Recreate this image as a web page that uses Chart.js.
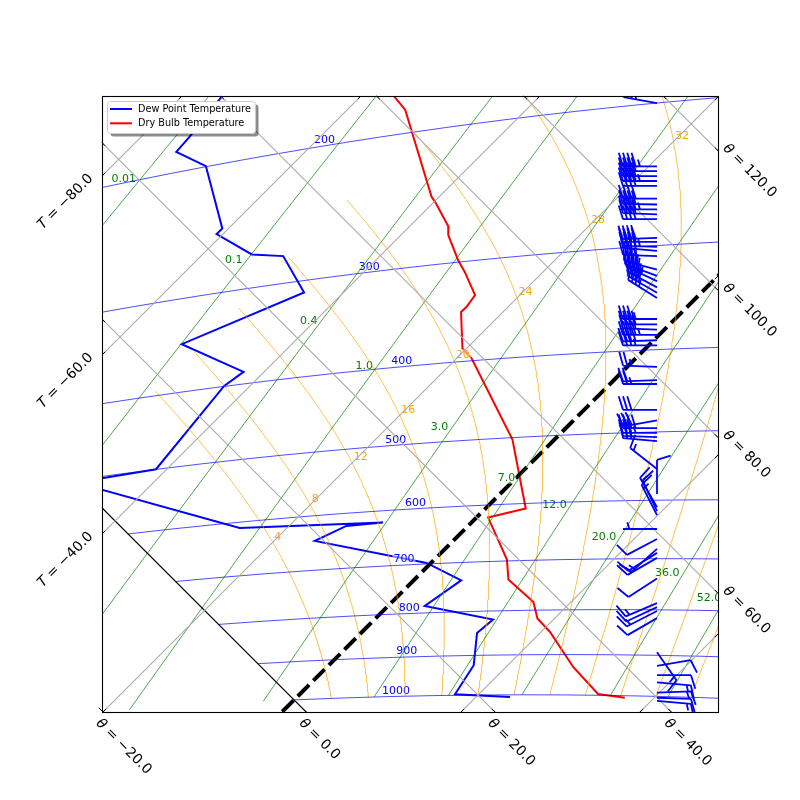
<!DOCTYPE html>
<html><head><meta charset="utf-8">
<script src="https://cdn.jsdelivr.net/npm/chart.js@4.4.0/dist/chart.umd.min.js"></script>
<style>html,body{margin:0;padding:0;background:#fff;}canvas{display:block;}</style>
</head><body>
<canvas id="c" width="800" height="800"></canvas>
<script>
// ---------------- DATA ----------------
// Dry bulb temperature profile (hPa, degC)
const tempPressure = [174, 186.1, 245.1, 249.1, 269.6, 276.3, 298.3, 309.3, 331.8, 342.5, 346.9, 385.5, 397.5, 502.6, 608.4, 621.0, 697.4, 736.1, 782.7, 818.1, 847.9, 929.6, 996.7, 1005.2];
const tempValues   = [-57.4, -53.5, -40.85, -39.9, -35.6, -34.7, -30.8, -28.75, -25.0, -24.65, -24.7, -20.45, -18.3, -4.7, 4.5, 1.3, 8.1, 10.5, 15.8, 18.1, 21.0, 27.5, 33.3, 36.7];
// Dew point profile (hPa, degC)
const dewPressure = [156.5, 179.6, 187.0, 199.6, 245.8, 249.5, 270.6, 276.0, 311.1, 345.5, 385.8, 399.4, 499.8, 504.0, 610.1, 620.0, 621.8, 644.5, 698.1, 734.7, 785.0, 818.6, 847.8, 924.0, 997.4, 1005.8];
const dewValues   = [-75.7, -74.6, -74.4, -69.5, -60.7, -60.7, -54.5, -50.8, -44.4, -52.3, -42.3, -42.9, -41.2, -48.6, -25.3, -9.9, -13.6, -15.45, -0.5, 5.3, 4.1, 13.25, 12.96, 16.2, 17.35, 23.8];
// Wind barbs (hPa, knots, direction from in degrees)
const barbPressure  = [200, 239.9, 243.2, 246.6, 250.1, 253.6, 262.9, 267.3, 271.0, 274.8, 278.6, 293.6, 296.9, 301.0, 304.5, 308.9, 320.8, 326.4, 331.2, 337.0, 342.0, 347.0, 367.8, 373.2, 378.6, 384.2, 389.9, 395.5, 419.2, 434.7, 439.3, 471.2, 484.8, 495.0, 501.4, 507.0, 512.6, 552.2, 590.1, 611.3, 617.7, 624.2, 647.5, 664.7, 682.3, 689.5, 698.6, 737.4, 786.3, 794.4, 802.6, 817.5, 893.0, 924.9, 947.1, 964.7, 990.4, 1003.6, 1011.6];
const barbSpeed     = [40, 45, 40, 40, 45, 40, 40, 40, 45, 40, 40, 40, 40, 45, 40, 35, 40, 40, 45, 40, 40, 35, 35, 40, 40, 45, 40, 35, 25, 20, 25, 30, 30, 40, 35, 30, 30, 15, 10, 15, 10, 15, 5, 10, 15, 10, 15, 10, 15, 10, 15, 10, 15, 10, 10, 15, 15, 10, 15];
const barbDirection = [280, 270, 270, 270, 270, 270, 270, 271, 270, 272, 270, 268, 270, 272, 275, 272, 285, 290, 295, 298, 300, 302, 270, 270, 272, 270, 268, 270, 272, 268, 270, 270, 260, 270, 270, 272, 275, 308, 360, 330, 335, 333, 270, 242, 228, 238, 240, 237, 247, 245, 243, 240, 145, 80, 90, 95, 88, 92, 95];
// Isopleths of the diagram
const isobarLevels = [1000, 900, 800, 700, 600, 500, 400, 300, 200];
const isobarLabelT = [11, 7.8, 3.2, -2.8, -7.8, -17.1, -25.2, -39.4, -58.5];
const mixingRatios = [0.01, 0.1, 0.4, 1.0, 3.0, 7.0, 12.0, 20.0, 36.0, 52.0];
const mixingLabelP = [200, 275, 341, 397, 481, 559, 605, 661, 727, 775];
const wetAdiabats = [4, 8, 12, 16, 20, 24, 28, 32, 36, 40, 44, 48, 52, 56, 60];
const wetLabelT = -20;
const wetMinT = -50;
const isotherms = [-100, -80, -60, -40, -20, 20, 40, 60];
const isentropes = [-20, 20, 40, 60, 80, 100, 120, 140];
const tTickLabels = [-20, -40, -60, -80];
const thetaBottomLabels = [-20, 0, 20, 40];
const thetaRightLabels = [60, 80, 100, 120];

// ---------------- TEPHIGRAM PROJECTION ----------------
const KAPPA = 0.2857, T_SCALE = 8.95, LN_SCALE = 2672, T_ORIGIN = -20, TH_ORIGIN = 253.15;
function proj(T, thC) {
  const a = T_SCALE * (T - T_ORIGIN);
  const b = LN_SCALE * Math.log((thC + 273.15) / TH_ORIGIN);
  return {x: (a + b) / 2, y: (b - a) / 2};
}
function thetaOf(T, p) { return (T + 273.15) * Math.pow(1000 / p, KAPPA) - 273.15; }
function projTP(T, p) { return proj(T, thetaOf(T, p)); }
function mixT(p, w) {
  const e = p * 1.6 * w / 1000;
  return 1 / (1 / 273.15 - Math.log(e / 6.11) * 461.5 / 2.5e6) - 273.15;
}
function wetGrad(p, T) {
  const k = T + 273.15;
  const es = 6.11 * Math.exp((2.5e6 / 461) * (1 / 273.15 - 1 / k));
  const rw = es * 0.622 / p;
  const lr = 2.5e6 * rw / (287 * k);
  const nume = (287 * k / (1010 * p)) * (1 + lr);
  const deno = 1 + lr * (0.622 * 2.5e6 / (1010 * k));
  return nume / deno;
}
function wetCurve(thw) {
  // forward stepping in pressure from 1000 hPa up to the minimum temperature
  const out = [{T: thw, p: 1000}];
  let p = 1000, T = thw; const dp = -3;
  while (T > wetMinT && p > 10) {
    const g = wetGrad(p, T);
    let dT = g * dp, ddp = dp;
    if (T + dT < wetMinT) { dT = wetMinT - T; ddp = dT / g; }
    p += ddp; T += dT; out.push({T, p});
  }
  return out;
}
function isobarPointAtX(p, xTarget) {
  let lo = -200, hi = 200;
  for (let i = 0; i < 60; i++) { const m = (lo + hi) / 2; if (projTP(m, p).x < xTarget) lo = m; else hi = m; }
  return projTP((lo + hi) / 2, p);
}

// ---------------- DATASETS ----------------
const datasets = [];
function addLine(points, color, width, extra) {
  datasets.push(Object.assign({data: points, showLine: true, borderColor: color, backgroundColor: color,
    borderWidth: width, pointRadius: 0, pointHoverRadius: 0, fill: false, tension: 0, clip: 0}, extra || {}));
}
isotherms.forEach(T => addLine([proj(T, -80), proj(T, 300)], '#aaaaaa', 1.1));
isentropes.forEach(th => addLine([proj(-150, th), proj(100, th)], '#aaaaaa', 1.1));
addLine([proj(-150, 0), proj(100, 0)], '#000000', 1.2);
isobarLevels.forEach(p => {
  const pts = [];
  for (let th = 0; th <= 250; th += 5) { const T = (th + 273.15) * Math.pow(p / 1000, KAPPA) - 273.15; pts.push(proj(T, th)); }
  addLine(pts, '#0000ff', 0.7);
});
mixingRatios.forEach(w => {
  const pts = [];
  for (let i = 0; i <= 60; i++) { const p = 1000 * Math.pow(50 / 1000, i / 60); pts.push(projTP(mixT(p, w), p)); }
  addLine(pts, '#008000', 0.7);
});
const wetData = wetAdiabats.map(thw => wetCurve(thw));
wetData.forEach(c => addLine(c.map(q => projTP(q.T, q.p)), '#ffa500', 0.7));
addLine([proj(0, -80), proj(0, 300)], '#000000', 4, {borderDash: [16, 6]});
const LABEL_AFTER_INDEX = datasets.length - 1;
addLine(dewPressure.map((p, i) => projTP(dewValues[i], p)), '#0000ff', 2, {label: 'Dew Point Temperature'});
addLine(tempPressure.map((p, i) => projTP(tempValues[i], p)), '#ff0000', 2, {label: 'Dry Bulb Temperature'});

// ---------------- DRAWING HELPERS ----------------
const FONT = '"DejaVu Sans", Arial, sans-serif';
function pix(chart, pt) { return {X: chart.scales.x.getPixelForValue(pt.x), Y: chart.scales.y.getPixelForValue(pt.y)}; }
function clipArea(ctx, a) { ctx.beginPath(); ctx.rect(a.left, a.top, a.right - a.left, a.bottom - a.top); ctx.clip(); }
function boxedText(ctx, txt, x, y, align, color) {
  ctx.font = '11px ' + FONT;
  const w = ctx.measureText(txt).width;
  let x0 = align === 'center' ? x - w / 2 : (align === 'right' ? x - w : x);
  ctx.fillStyle = 'rgba(255,255,255,0.5)';
  ctx.fillRect(x0 - 1, y - 6, w + 2, 12);
  ctx.fillStyle = color; ctx.textAlign = 'left'; ctx.textBaseline = 'middle';
  ctx.fillText(txt, x0, y);
}
function drawIsoplethLabels(chart) {
  const ctx = chart.ctx, a = chart.chartArea;
  ctx.save(); clipArea(ctx, a);
  isobarLevels.forEach((p, i) => {
    const q = pix(chart, projTP(isobarLabelT[i], p));
    boxedText(ctx, String(p), q.X, q.Y - 5.5, 'center', '#0000ff');
  });
  mixingRatios.forEach((w, i) => {
    const p = mixingLabelP[i];
    const q = pix(chart, projTP(mixT(p, w), p));
    boxedText(ctx, w >= 0.1 ? w.toFixed(1) : String(w), q.X - 4, q.Y, 'right', '#008000');
  });
  wetAdiabats.forEach((thw, i) => {
    const c = wetData[i];
    for (let k = 1; k < c.length; k++) {
      if (c[k].T <= wetLabelT && c[k - 1].T > wetLabelT) {
        const f = (c[k - 1].T - wetLabelT) / (c[k - 1].T - c[k].T);
        const p = c[k - 1].p + f * (c[k].p - c[k - 1].p);
        const q = pix(chart, projTP(wetLabelT, p));
        boxedText(ctx, String(thw), q.X + 1.5, q.Y - 5.5, 'left', '#ffa500');
        break;
      }
    }
  });
  ctx.restore();
}
function drawBarbs(chart) {
  const ctx = chart.ctx, a = chart.chartArea;
  const L = 34, sp = 0.125 * L, h = 0.4 * L, w = 0.25 * L;
  const barbX = chart.scales.x.getValueForPixel(657);
  ctx.save(); clipArea(ctx, a);
  ctx.strokeStyle = '#0000ff'; ctx.fillStyle = '#0000ff'; ctx.lineWidth = 1.8; ctx.lineJoin = 'miter';
  barbPressure.forEach((p, i) => {
    const o = pix(chart, isobarPointAtX(p, barbX));
    const d = barbDirection[i] * Math.PI / 180;
    const u = {x: Math.sin(d), y: -Math.cos(d)};
    const n = {x: -u.y, y: u.x};
    const at = s => ({x: o.X + u.x * s, y: o.Y + u.y * s});
    let spd = Math.round(barbSpeed[i] / 5) * 5;
    const flags = Math.floor(spd / 50); spd -= flags * 50;
    const full = Math.floor(spd / 10); spd -= full * 10;
    const half = spd >= 5;
    ctx.beginPath();
    const t = at(L); ctx.moveTo(o.X, o.Y); ctx.lineTo(t.x, t.y);
    let off = L;
    for (let k = 0; k < flags; k++) {
      const p1 = at(off), p3 = at(off - w);
      const p2 = {x: at(off - w / 2).x + n.x * h, y: at(off - w / 2).y + n.y * h};
      ctx.moveTo(p1.x, p1.y); ctx.lineTo(p2.x, p2.y); ctx.lineTo(p3.x, p3.y);
      off -= w + sp;
    }
    for (let k = 0; k < full; k++) {
      const b0 = at(off), b1 = at(off + w / 2);
      ctx.moveTo(b0.x, b0.y); ctx.lineTo(b1.x + n.x * h, b1.y + n.y * h);
      off -= sp;
    }
    if (half) {
      if (off === L) off -= 1.5 * sp;
      const b0 = at(off), b1 = at(off + w / 4);
      ctx.moveTo(b0.x, b0.y); ctx.lineTo(b1.x + n.x * h / 2, b1.y + n.y * h / 2);
    }
    ctx.stroke();
  });
  ctx.restore();
}
function drawMath(ctx, sym, rest, x, y) {
  ctx.font = 'italic 14px ' + FONT; const w1 = ctx.measureText(sym).width;
  ctx.font = '14px ' + FONT; const w2 = ctx.measureText(rest).width;
  return {w: w1 + w2, draw: (x0) => {
    ctx.font = 'italic 14px ' + FONT; ctx.fillText(sym, x0, y);
    ctx.font = '14px ' + FONT; ctx.fillText(rest, x0 + w1, y);
  }};
}
function fmt(v) { return (v < 0 ? '\u2212' : '') + Math.abs(v).toFixed(1); }
function edgeHits(chart, p1, p2) {
  const a = chart.chartArea, A = pix(chart, p1), B = pix(chart, p2);
  const dx = B.X - A.X, dy = B.Y - A.Y, hits = [];
  const tryT = (t, edge) => {
    if (t < 0 || t > 1) return;
    const x = A.X + dx * t, y = A.Y + dy * t;
    if (x < a.left - 0.5 || x > a.right + 0.5 || y < a.top - 0.5 || y > a.bottom + 0.5) return;
    const len = Math.hypot(dx, dy); let ux = dx / len, uy = dy / len;
    const tx = x + ux * 3, ty = y + uy * 3;
    if (!(tx >= a.left && tx <= a.right && ty >= a.top && ty <= a.bottom)) { ux = -ux; uy = -uy; }
    hits.push({edge, x, y, ux, uy});
  };
  if (dx) { tryT((a.left - A.X) / dx, 'left'); tryT((a.right - A.X) / dx, 'right'); }
  if (dy) { tryT((a.top - A.Y) / dy, 'top'); tryT((a.bottom - A.Y) / dy, 'bottom'); }
  return hits;
}
function drawFrame(chart) {
  const ctx = chart.ctx, a = chart.chartArea;
  ctx.save();
  ctx.strokeStyle = '#000'; ctx.lineWidth = 1.1;
  ctx.strokeRect(a.left + 0.5, a.top + 0.5, a.right - a.left, a.bottom - a.top);
  const lines = [];
  [-100, -80, -60, -40, -20, 0, 20, 40, 60].forEach(T => lines.push({kind: 'T', v: T, p1: proj(T, -80), p2: proj(T, 300)}));
  [-20, 0, 20, 40, 60, 80, 100, 120, 140].forEach(th => lines.push({kind: 'th', v: th, p1: proj(-150, th), p2: proj(100, th)}));
  ctx.lineWidth = 1;
  lines.forEach(L => {
    edgeHits(chart, L.p1, L.p2).forEach(hh => {
      ctx.beginPath(); ctx.moveTo(hh.x, hh.y); ctx.lineTo(hh.x + hh.ux * 4.5, hh.y + hh.uy * 4.5); ctx.stroke();
      ctx.fillStyle = '#000'; ctx.textBaseline = 'middle';
      if (L.kind === 'T' && hh.edge === 'left' && tTickLabels.includes(L.v)) {
        ctx.save(); ctx.translate(hh.x, hh.y); ctx.rotate(-Math.PI / 4);
        const m = drawMath(ctx, 'T', ' = ' + fmt(L.v), 0, -7.5); m.draw(-44 - m.w / 2); ctx.restore();
      }
      if (L.kind === 'th' && hh.edge === 'bottom' && thetaBottomLabels.includes(L.v)) {
        ctx.save(); ctx.translate(hh.x, hh.y); ctx.rotate(Math.PI / 4);
        const m = drawMath(ctx, '\u03b8', ' = ' + fmt(L.v), 0, 10); m.draw(3); ctx.restore();
      }
      if (L.kind === 'th' && hh.edge === 'right' && thetaRightLabels.includes(L.v)) {
        ctx.save(); ctx.translate(hh.x, hh.y); ctx.rotate(Math.PI / 4);
        const m = drawMath(ctx, '\u03b8', ' = ' + fmt(L.v), 0, -8); m.draw(2); ctx.restore();
      }
    });
  });
  ctx.restore();
}
function drawLegend(chart) {
  const ctx = chart.ctx;
  const items = chart.data.datasets.filter(d => d.label);
  const x0 = 107.5, y0 = 101.5, w = 148, hgt = 32;
  ctx.save();
  ctx.fillStyle = 'rgba(0,0,0,0.45)';
  ctx.beginPath(); ctx.roundRect(x0 + 3, y0 + 3, w, hgt, 3); ctx.fill();
  ctx.fillStyle = '#fff'; ctx.strokeStyle = '#cccccc'; ctx.lineWidth = 1;
  ctx.beginPath(); ctx.roundRect(x0, y0, w, hgt, 3); ctx.fill(); ctx.stroke();
  ctx.font = '9.7px ' + FONT; ctx.textBaseline = 'middle'; ctx.textAlign = 'left';
  items.forEach((d, i) => {
    const y = 109 + i * 14.3;
    ctx.strokeStyle = d.borderColor; ctx.lineWidth = 2;
    ctx.beginPath(); ctx.moveTo(110, y); ctx.lineTo(132, y); ctx.stroke();
    ctx.fillStyle = '#000'; ctx.fillText(d.label, 138, y);
  });
  ctx.restore();
}
const overlay = {
  id: 'overlay',
  afterDatasetDraw(chart, args) { if (args.index === LABEL_AFTER_INDEX) drawIsoplethLabels(chart); },
  afterDatasetsDraw(chart) { drawBarbs(chart); drawFrame(chart); drawLegend(chart); }
};

new Chart(document.getElementById('c'), {
  type: 'scatter',
  data: {datasets},
  options: {
    responsive: false, animation: false, devicePixelRatio: 1, events: [],
    layout: {padding: {left: 102, right: 82, top: 96, bottom: 88}},
    scales: {
      x: {type: 'linear', min: -1, max: 615, display: false},
      y: {type: 'linear', min: 0, max: 616, display: false}
    },
    plugins: {legend: {display: false}, tooltip: {enabled: false}}
  },
  plugins: [overlay]
});
</script>
</body></html>
